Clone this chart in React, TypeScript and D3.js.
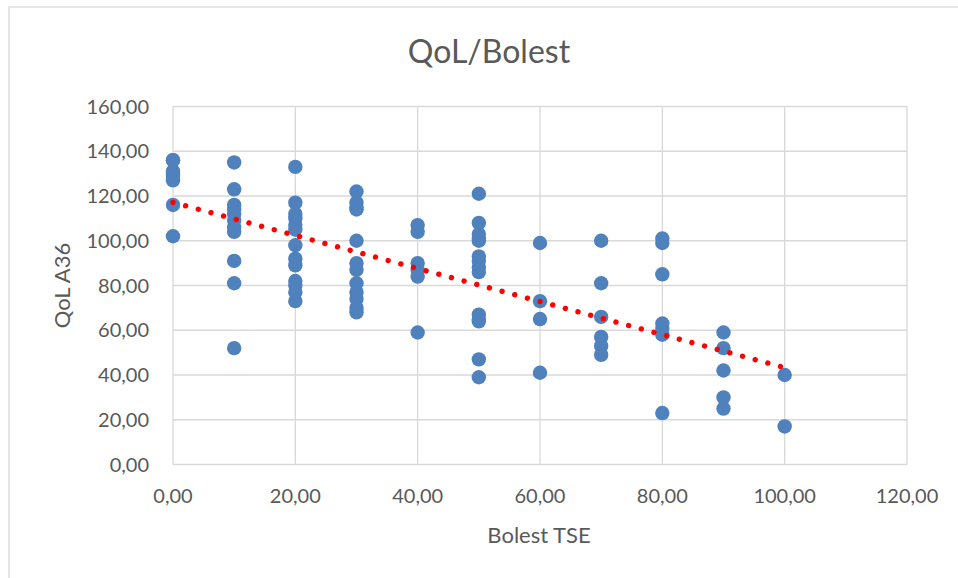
import React from "react";
import * as d3 from "d3";

// Bolest TSE (x) grouped values and QoL A36 (y)
const xGroups = [0, 10, 20, 30, 40, 50, 60, 70, 80, 90, 100];
const yByGroup: number[][] = [
  [136, 136, 131, 130, 129, 128, 127, 116, 102],
  [135, 123, 116, 114, 112, 109, 106, 104, 91, 81, 52],
  [133, 117, 112, 110, 107, 105, 98, 92, 89, 82, 80, 77, 73],
  [122, 117, 115, 114, 100, 90, 87, 81, 77, 74, 70, 68],
  [107, 104, 90, 87, 84, 59],
  [121, 108, 103, 101, 100, 93, 91, 88, 86, 67, 65, 64, 47, 39],
  [99, 73, 65, 41],
  [100, 81, 66, 57, 53, 49],
  [101, 99, 85, 63, 61, 58, 23],
  [59, 52, 42, 30, 25],
  [40, 17],
];
const xTicks = [0, 20, 40, 60, 80, 100, 120];
const yTicks = [0, 20, 40, 60, 80, 100, 120, 140, 160];
const title = "QoL/Bolest";
const xTitle = "Bolest TSE";
const yTitle = "QoL A36";

const W = 958;
const H = 578;
const FONT = "Lato, 'Open Sans', sans-serif";
const TEXT = "#595959";
const GRID = "#d9d9d9";

export default function App() {
  const points = xGroups.flatMap((x, i) => yByGroup[i].map((y) => ({ x, y })));
  const x = d3.scaleLinear().domain([0, 120]).range([173, 907]);
  const y = d3.scaleLinear().domain([0, 160]).range([464.5, 106.5]);
  const fmt = (v: number) => d3.format(".2f")(v).replace(".", ",");

  // least squares trendline
  const mx = d3.mean(points, (p) => p.x)!;
  const my = d3.mean(points, (p) => p.y)!;
  const sxy = d3.sum(points, (p) => (p.x - mx) * (p.y - my));
  const sxx = d3.sum(points, (p) => (p.x - mx) ** 2);
  const slope = sxy / sxx;
  const icpt = my - slope * mx;
  const [x0, x1] = d3.extent(points, (p) => p.x) as [number, number];
  const trend = d3.line<number>().x((v) => x(v)).y((v) => y(icpt + slope * v))([x0, x1])!;

  return (
    <svg width={W} height={H} style={{ position: "absolute", left: 0, top: 0, background: "#fff" }}>
      <rect x={9} y={7} width={W + 10} height={H + 10} fill="#fff" stroke={GRID} strokeWidth={1.3} />
      <text x={489} y={63} textAnchor="middle" fontFamily={FONT} fontSize={32} fill={TEXT}>
        {title}
      </text>
      {yTicks.map((t) => (
        <line key={"gy" + t} x1={x(0)} x2={x(120)} y1={y(t)} y2={y(t)} stroke={GRID} strokeWidth={1.3} />
      ))}
      {xTicks.map((t) => (
        <line key={"gx" + t} x1={x(t)} x2={x(t)} y1={y(0)} y2={y(160)} stroke={GRID} strokeWidth={1.3} />
      ))}
      {yTicks.map((t) => (
        <text key={"ty" + t} x={149} y={y(t) + 7} textAnchor="end" fontFamily={FONT} fontSize={20} fill={TEXT}>
          {fmt(t)}
        </text>
      ))}
      {xTicks.map((t) => (
        <text key={"tx" + t} x={x(t)} y={503} textAnchor="middle" fontFamily={FONT} fontSize={20} fill={TEXT}>
          {fmt(t)}
        </text>
      ))}
      <text x={539} y={543} textAnchor="middle" fontFamily={FONT} fontSize={22} fill={TEXT}>
        {xTitle}
      </text>
      <text
        transform={`translate(70, ${(y(0) + y(160)) / 2}) rotate(-90)`}
        textAnchor="middle"
        fontFamily={FONT}
        fontSize={22}
        fill={TEXT}
      >
        {yTitle}
      </text>
      {points.map((p, i) => (
        <circle key={i} cx={x(p.x)} cy={y(p.y)} r={7.2} fill="#4f81bd" />
      ))}
      <path d={trend} fill="none" stroke="#ff0000" strokeWidth={5.4} strokeLinecap="round" strokeDasharray="0.01 13.1" />
    </svg>
  );
}
